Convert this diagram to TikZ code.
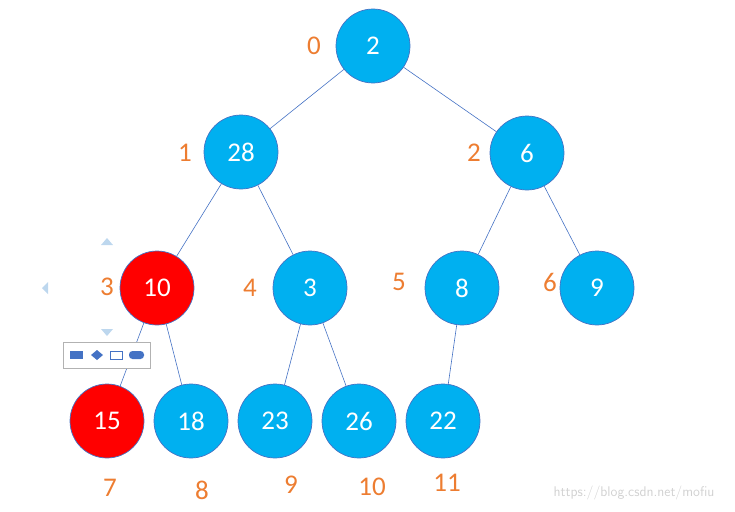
\documentclass[tikz,border=0pt]{standalone}
\usepackage{fontspec}
\setmainfont{Carlito}
\usetikzlibrary{shapes.geometric}
\usepackage{xcolor}
\definecolor{heapblue}{HTML}{00B0F0}
\definecolor{heapred}{HTML}{FF0000}
\definecolor{edgeblue}{HTML}{4472C4}
\definecolor{idxorange}{HTML}{ED7D31}
\definecolor{handle}{HTML}{BDD7EE}

\begin{document}
\begin{tikzpicture}[x=1pt, y=-1pt,
    key/.style={circle, draw=edgeblue, line width=0.7pt, fill=heapblue, minimum size=74pt, inner sep=0pt, text=white, font=\fontsize{27}{30}\selectfont},
    hot/.style={key, fill=heapred},
    idx/.style={text=idxorange, inner sep=1pt, font=\fontsize{27}{30}\selectfont},
    link/.style={draw=edgeblue, line width=0.6pt},
    grip/.style={fill=handle, draw=none},
    tool/.style={fill=edgeblue, draw=none}
]
    \useasboundingbox (0,0) rectangle (735,511);

    % Ebene 0 und 1
    \node[key] (n0) at (373, 46) {2};
    \node[key] (n1) at (241, 152) {28};
    \node[key] (n2) at (527, 153) {6};

    % Ebene 2
    \node[hot] (n3) at (157, 288) {10};
    \node[key] (n4) at (310, 288) {3};
    \node[key] (n5) at (462, 288) {8};
    \node[key] (n6) at (597, 288) {9};

    % Ebene 3
    \node[hot] (n7) at (107, 421) {15};
    \node[key] (n8) at (191, 421) {18};
    \node[key] (n9) at (275, 421) {23};
    \node[key] (n10) at (359, 421) {26};
    \node[key] (n11) at (443, 421) {22};

    % Kanten
    \draw[link] (n0) -- (n1);
    \draw[link] (n0) -- (n2);
    \draw[link] (n1) -- (n3);
    \draw[link] (n1) -- (n4);
    \draw[link] (n2) -- (n5);
    \draw[link] (n2) -- (n6);
    \draw[link] (n3) -- (n7);
    \draw[link] (n3) -- (n8);
    \draw[link] (n4) -- (n9);
    \draw[link] (n4) -- (n10);
    \draw[link] (n5) -- (n11);

    % Indizes
    \node[idx] (i0) at (314, 46) {0};
    \node[idx] (i1) at (185, 153) {1};
    \node[idx] (i2) at (474, 153) {2};
    \node[idx] (i3) at (107, 287) {3};
    \node[idx] (i4) at (250, 288) {4};
    \node[idx] (i5) at (399, 282) {5};
    \node[idx] (i6) at (550, 282) {6};
    \node[idx] (i7) at (110, 488) {7};
    \node[idx] (i8) at (202, 490) {8};
    \node[idx] (i9) at (291, 485) {9};
    \node[idx] (i10) at (372, 487) {10};
    \node[idx] (i11) at (447, 483) {11};

    % Auswahl-Griffe und Werkzeugleiste
    \fill[grip] (101, 245) -- (113, 245) -- (107, 238) -- cycle;
    \fill[grip] (101, 329) -- (113, 329) -- (107, 336) -- cycle;
    \fill[grip] (48, 282) -- (48, 294) -- (42, 288) -- cycle;
    \node[draw=black!30, fill=white, line width=0.5pt, minimum width=87pt, minimum height=26pt, inner sep=0pt] (bar) at (106.5, 355) {};
    \fill[tool] (70, 351) rectangle (83, 359);
    \fill[tool] (91, 355) -- (97, 350) -- (103, 355) -- (97, 360) -- cycle;
    \draw[edgeblue, line width=0.9pt] (110, 351) rectangle (122, 359);
    \fill[tool, rounded corners=3.5pt] (129, 351) rectangle (144, 359);

    % Wasserzeichen
    \node[text=black!18, font=\fontsize{14}{16}\selectfont\sffamily, inner sep=0pt] (mark) at (634, 493) {https://blog.csdn.net/mofiu};
\end{tikzpicture}
\end{document}
